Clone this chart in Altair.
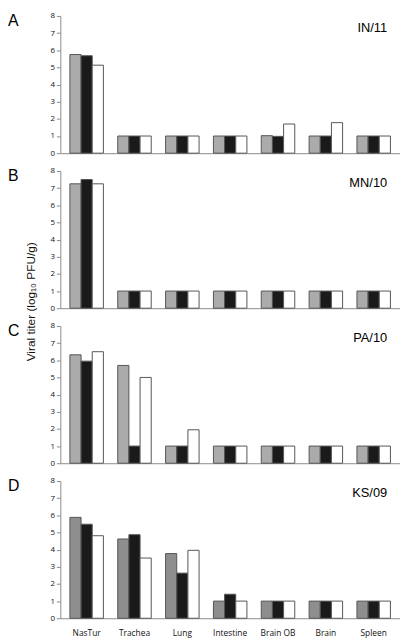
import altair as alt
import pandas as pd

organs = ["NasTur", "Trachea", "Lung", "Intestine", "Brain OB", "Brain", "Spleen"]
groups = ["Group 1", "Group 2", "Group 3"]
panel_letters = ["A", "B", "C", "D"]
strains = ["IN/11", "MN/10", "PA/10", "KS/09"]

# IN/11
in11_g1 = [5.75, 1.0, 1.0, 1.0, 1.02, 1.0, 1.0]
in11_g2 = [5.68, 1.0, 1.0, 1.0, 0.98, 1.0, 1.0]
in11_g3 = [5.13, 1.0, 1.0, 1.0, 1.70, 1.78, 1.0]
# MN/10
mn10_g1 = [7.25, 1.0, 1.0, 1.0, 1.0, 1.0, 1.0]
mn10_g2 = [7.50, 1.0, 1.0, 1.0, 1.0, 1.0, 1.0]
mn10_g3 = [7.25, 1.0, 1.0, 1.0, 1.0, 1.0, 1.0]
# PA/10
pa10_g1 = [6.32, 5.70, 1.0, 1.0, 1.0, 1.0, 1.0]
pa10_g2 = [5.95, 1.0, 1.0, 1.0, 1.0, 1.0, 1.0]
pa10_g3 = [6.50, 5.00, 1.95, 1.0, 1.0, 1.0, 1.0]
# KS/09
ks09_g1 = [5.88, 4.62, 3.77, 1.0, 1.0, 1.0, 1.0]
ks09_g2 = [5.48, 4.87, 2.63, 1.40, 1.0, 1.0, 1.0]
ks09_g3 = [4.81, 3.51, 3.96, 1.0, 1.0, 1.0, 1.0]

panel_values = [
    [in11_g1, in11_g2, in11_g3],
    [mn10_g1, mn10_g2, mn10_g3],
    [pa10_g1, pa10_g2, pa10_g3],
    [ks09_g1, ks09_g2, ks09_g3],
]
gray_colors = ["#ababab", "#ababab", "#ababab", "#8e8e8e"]
y_title = "Viral titer (log\u2081\u2080 PFU/g)"

W = 344
H = 139


def panel(i):
    rows = []
    for g, series in zip(groups, panel_values[i]):
        for o, v in zip(organs, series):
            rows.append({"organ": o, "group": g, "value": v})
    df = pd.DataFrame(rows)
    show_x = i == 3
    yaxis_kwargs = dict(
        values=list(range(9)), grid=False, domainColor="#8a8a8a", tickColor="#8a8a8a",
        tickSize=4, labelPadding=2, labelFont="Open Sans", labelFontSize=8,
        labelColor="#111111",
    )
    if i == 1:
        yaxis_kwargs.update(
            title=y_title, titleX=-30, titleY=132, titleAngle=270, titleAlign="center",
            titleBaseline="middle", titleFont="Liberation Sans", titleFontSize=12,
            titleFontWeight="normal", titleColor="#111111",
        )
    else:
        yaxis_kwargs.update(title=None)
    bars = alt.Chart(df).mark_bar(stroke="#555555", strokeWidth=1).encode(
        x=alt.X(
            "organ:N", sort=organs,
            scale=alt.Scale(paddingInner=0.3, paddingOuter=0.2),
            axis=alt.Axis(
                title=None, labels=show_x, ticks=False, domainColor="#8a8a8a",
                labelAngle=0, labelFont="Open Sans", labelFontSize=8.5,
                labelColor="#111111", labelPadding=10,
            ),
        ),
        xOffset=alt.XOffset("group:N", sort=groups),
        y=alt.Y("value:Q", scale=alt.Scale(domain=[0, 8], nice=False),
                axis=alt.Axis(**yaxis_kwargs)),
        color=alt.Color(
            "group:N",
            scale=alt.Scale(domain=groups, range=[gray_colors[i], "#1a1a1a", "#ffffff"]),
            legend=None,
        ),
    )
    lab = pd.DataFrame({"letter": [panel_letters[i]], "strain": [strains[i]]})
    letter = alt.Chart(lab).mark_text(
        align="left", baseline="middle", font="Liberation Sans", fontSize=16, color="#000000"
    ).encode(x=alt.value(-53), y=alt.value(5), text="letter:N")
    strain = alt.Chart(lab).mark_text(
        align="right", baseline="middle", font="Liberation Sans", fontSize=13, color="#000000"
    ).encode(x=alt.value(W - 13), y=alt.value(12), text="strain:N")
    return alt.layer(bars, letter, strain).properties(width=W, height=H)


chart = alt.vconcat(
    *[panel(i) for i in range(4)], spacing=18, bounds="flush"
).resolve_scale(color="independent").properties(padding=0).configure_view(stroke=None)

chart.save("out.html", embed_options={"renderer": "svg", "actions": False})
